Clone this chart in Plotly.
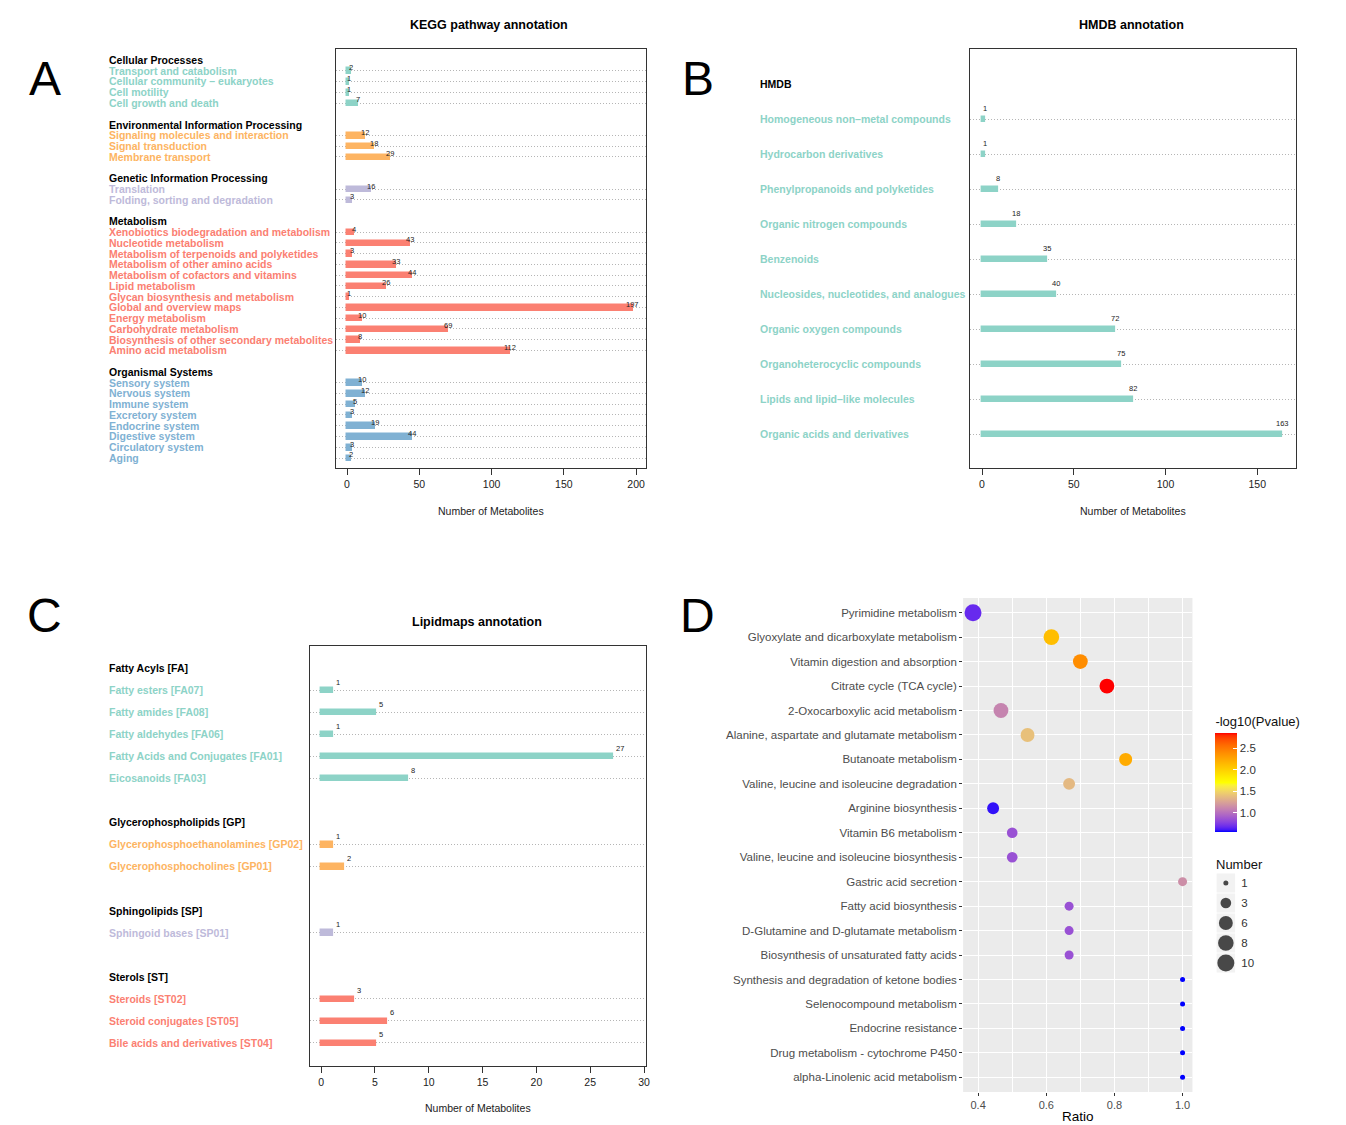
import numpy as np
import plotly.graph_objects as go

W, H = 1346, 1125
OX, OY = 8, 8            # page body margin of the html page
FW, FH = W - OX, H - OY  # figure size
FONT = "Liberation Sans, Arial, Helvetica, sans-serif"

def px(x):
    return (x - OX) / FW

def py(y):
    return 1 - (y - OY) / FH

TEAL, ORANGE, LAV, SALMON, BLUE = "#8DD3C7", "#FDB462", "#BEBADA", "#FB8072", "#80B1D3"

# ---------------- Panel A : KEGG ----------------
kegg_groups = ["Cellular Processes", "Environmental Information Processing",
               "Genetic Information Processing", "Metabolism", "Organismal Systems"]
kegg_cell_labels = ["Transport and catabolism", "Cellular community \u2013 eukaryotes",
                    "Cell motility", "Cell growth and death"]
kegg_cell_values = [2, 1, 1, 7]
kegg_env_labels = ["Signaling molecules and interaction", "Signal transduction", "Membrane transport"]
kegg_env_values = [12, 18, 29]
kegg_gen_labels = ["Translation", "Folding, sorting and degradation"]
kegg_gen_values = [16, 3]
kegg_met_labels = ["Xenobiotics biodegradation and metabolism", "Nucleotide metabolism",
                   "Metabolism of terpenoids and polyketides", "Metabolism of other amino acids",
                   "Metabolism of cofactors and vitamins", "Lipid metabolism",
                   "Glycan biosynthesis and metabolism", "Global and overview maps",
                   "Energy metabolism", "Carbohydrate metabolism",
                   "Biosynthesis of other secondary metabolites", "Amino acid metabolism"]
kegg_met_values = [4, 43, 3, 33, 44, 26, 1, 197, 10, 69, 8, 112]
kegg_org_labels = ["Sensory system", "Nervous system", "Immune system", "Excretory system",
                   "Endocrine system", "Digestive system", "Circulatory system", "Aging"]
kegg_org_values = [10, 12, 5, 3, 19, 44, 3, 2]
kegg_ticks = [0, 50, 100, 150, 200]

# ---------------- Panel B : HMDB ----------------
hmdb_header = "HMDB"
hmdb_labels = ["Homogeneous non\u2013metal compounds", "Hydrocarbon derivatives",
               "Phenylpropanoids and polyketides", "Organic nitrogen compounds", "Benzenoids",
               "Nucleosides, nucleotides, and analogues", "Organic oxygen compounds",
               "Organoheterocyclic compounds", "Lipids and lipid\u2013like molecules",
               "Organic acids and derivatives"]
hmdb_values = [1, 1, 8, 18, 35, 40, 72, 75, 82, 163]
hmdb_ticks = [0, 50, 100, 150]

# ---------------- Panel C : Lipidmaps ----------------
lipid_groups = ["Fatty Acyls [FA]", "Glycerophospholipids [GP]", "Sphingolipids [SP]", "Sterols [ST]"]
lipid_fa_labels = ["Fatty esters [FA07]", "Fatty amides [FA08]", "Fatty aldehydes [FA06]",
                   "Fatty Acids and Conjugates [FA01]", "Eicosanoids [FA03]"]
lipid_fa_values = [1, 5, 1, 27, 8]
lipid_gp_labels = ["Glycerophosphoethanolamines [GP02]", "Glycerophosphocholines [GP01]"]
lipid_gp_values = [1, 2]
lipid_sp_labels = ["Sphingoid bases [SP01]"]
lipid_sp_values = [1]
lipid_st_labels = ["Steroids [ST02]", "Steroid conjugates [ST05]", "Bile acids and derivatives [ST04]"]
lipid_st_values = [3, 6, 5]
lipid_ticks = [0, 5, 10, 15, 20, 25, 30]

# ---------------- Panel D : enrichment bubble ----------------
enr_pathways = ["Pyrimidine metabolism", "Glyoxylate and dicarboxylate metabolism",
                "Vitamin digestion and absorption", "Citrate cycle (TCA cycle)",
                "2-Oxocarboxylic acid metabolism", "Alanine, aspartate and glutamate metabolism",
                "Butanoate metabolism", "Valine, leucine and isoleucine degradation",
                "Arginine biosynthesis", "Vitamin B6 metabolism",
                "Valine, leucine and isoleucine biosynthesis", "Gastric acid secretion",
                "Fatty acid biosynthesis", "D-Glutamine and D-glutamate metabolism",
                "Biosynthesis of unsaturated fatty acids", "Synthesis and degradation of ketone bodies",
                "Selenocompound metabolism", "Endocrine resistance",
                "Drug metabolism - cytochrome P450", "alpha-Linolenic acid metabolism"]
enr_ratio = [0.385, 0.615, 0.70, 0.778, 0.467, 0.545, 0.833, 0.667, 0.444, 0.50,
             0.50, 1.0, 0.667, 0.667, 0.667, 1.0, 1.0, 1.0, 1.0, 1.0]
enr_number = [10, 8, 7, 7, 7, 6, 5, 4, 4, 3, 3, 2, 2, 2, 2, 1, 1, 1, 1, 1]
enr_logp = [0.68, 2.11, 2.39, 2.85, 1.10, 1.40, 2.22, 1.36, 0.60, 0.85,
            0.85, 1.15, 0.85, 0.85, 0.85, 0.56, 0.56, 0.56, 0.56, 0.56]
size_legend_numbers = [1, 3, 6, 8, 10]
cbar_ticks = [1.0, 1.5, 2.0, 2.5]
ratio_ticks = [0.4, 0.6, 0.8, 1.0]


# ---------- helpers ----------
def hex2rgb(h):
    h = h.lstrip("#")
    return [int(h[i:i + 2], 16) / 255 for i in (0, 2, 4)]

def rgb2lab(rgb):
    def lin(c):
        return c / 12.92 if c <= 0.04045 else ((c + 0.055) / 1.055) ** 2.4
    r, g, b = [lin(c) for c in rgb]
    X = (0.4124 * r + 0.3576 * g + 0.1805 * b) / 0.95047
    Y = (0.2126 * r + 0.7152 * g + 0.0722 * b)
    Z = (0.0193 * r + 0.1192 * g + 0.9505 * b) / 1.08883
    def f(t):
        return t ** (1 / 3) if t > 0.008856 else 7.787 * t + 16 / 116
    fx, fy, fz = f(X), f(Y), f(Z)
    return [116 * fy - 16, 500 * (fx - fy), 200 * (fy - fz)]

def lab2hex(lab):
    L, a, b = lab
    fy = (L + 16) / 116
    fx = fy + a / 500
    fz = fy - b / 200
    def finv(t):
        return t ** 3 if t ** 3 > 0.008856 else (t - 16 / 116) / 7.787
    X, Y, Z = finv(fx) * 0.95047, finv(fy), finv(fz) * 1.08883
    r = 3.2406 * X - 1.5372 * Y - 0.4986 * Z
    g = -0.9689 * X + 1.8758 * Y + 0.0415 * Z
    bb = 0.0557 * X - 0.2040 * Y + 1.0570 * Z
    def gam(c):
        c = c * 12.92 if c <= 0.0031308 else 1.055 * c ** (1 / 2.4) - 0.055
        return int(round(min(max(c, 0), 1) * 255))
    return "#%02x%02x%02x" % (gam(r), gam(g), gam(bb))

def lab_scale(colors, n=41):
    labs = [rgb2lab(hex2rgb(c)) for c in colors]
    out = []
    for i in range(n):
        t = i / (n - 1)
        seg = min(int(t * (len(colors) - 1)), len(colors) - 2)
        lt = t * (len(colors) - 1) - seg
        lab = [labs[seg][k] * (1 - lt) + labs[seg + 1][k] * lt for k in range(3)]
        out.append([t, lab2hex(lab)])
    return out


def build_rows(groups):
    """groups: list of (header, labels, values, color)"""
    headers, items = [], []
    r = 0
    for hdr, labels, values, color in groups:
        headers.append((r, hdr))
        for i, (lab, v) in enumerate(zip(labels, values)):
            items.append((r + 1 + i, lab, v, color))
        r += len(labels) + 2
    return headers, items


fig = go.Figure()
annotations = []
shapes = []


def bar_panel(idx, groups, xrange_, yrange_, domx, domy, bar_w, label_x, label_size,
              ticks, lab_mode, title, title_xy, axtitle_y):
    xa = "xaxis" if idx == 1 else "xaxis%d" % idx
    ya = "yaxis" if idx == 1 else "yaxis%d" % idx
    xr = "x" if idx == 1 else "x%d" % idx
    yr = "y" if idx == 1 else "y%d" % idx
    headers, items = build_rows(groups)
    for hdr, labels, values, color in groups:
        rows = [it[0] for it in items if it[3] == color and it[1] in labels]
        fig.add_trace(go.Bar(x=values, y=rows, orientation="h", width=bar_w,
                             marker=dict(color=color, line=dict(color=color, width=2.5)),
                             xaxis=xr, yaxis=yr, showlegend=False, hoverinfo="x+y"))
    for r, hdr in headers:
        annotations.append(dict(x=px(label_x), y=r, xref="paper", yref=yr, text="<b>%s</b>" % hdr,
                                showarrow=False, xanchor="left", yanchor="middle",
                                font=dict(size=label_size, color="#000000", family=FONT)))
    for r, lab, v, color in items:
        annotations.append(dict(x=px(label_x), y=r, xref="paper", yref=yr, text="<b>%s</b>" % lab,
                                showarrow=False, xanchor="left", yanchor="middle",
                                font=dict(size=label_size, color=color, family=FONT)))
        if lab_mode == "A":
            annotations.append(dict(x=v, y=r, xref=xr, yref=yr, text=str(v), showarrow=False,
                                    xanchor="center", yanchor="middle", yshift=3, xshift=1,
                                    font=dict(size=7.5, color="#222222", family=FONT)))
        elif lab_mode == "B":
            annotations.append(dict(x=v, y=r, xref=xr, yref=yr, text=str(v), showarrow=False,
                                    xanchor="center", yanchor="middle", yshift=11, xshift=1,
                                    font=dict(size=7.5, color="#222222", family=FONT)))
        else:
            annotations.append(dict(x=v, y=r, xref=xr, yref=yr, text=str(v), showarrow=False,
                                    xanchor="left", yanchor="middle", yshift=8, xshift=2,
                                    font=dict(size=7.5, color="#222222", family=FONT)))
    item_rows = [it[0] for it in items]
    fig.update_layout(**{
        xa: dict(domain=domx, range=xrange_, tickvals=ticks, ticks="outside", ticklen=6,
                 tickcolor="#333333", showline=True, mirror=True, linecolor="#333333",
                 linewidth=1.2, showgrid=False, zeroline=False, anchor=yr,
                 tickfont=dict(size=10.5, color="#222222", family=FONT)),
        ya: dict(domain=domy, range=yrange_, tickvals=item_rows, showticklabels=False,
                 ticks="", showline=True, mirror=True, linecolor="#333333", linewidth=1.2,
                 showgrid=True, gridcolor="#B5B5B5", griddash="1px,2px", gridwidth=1,
                 zeroline=False, anchor=xr),
    })
    annotations.append(dict(x=px(title_xy[0]), y=py(title_xy[1]), xref="paper", yref="paper",
                            text="<b>%s</b>" % title, showarrow=False, xanchor="center",
                            yanchor="middle", font=dict(size=12.5, color="#000000", family=FONT)))
    annotations.append(dict(x=(domx[0] + domx[1]) / 2, y=py(axtitle_y), xref="paper", yref="paper",
                            text="Number of Metabolites", showarrow=False, xanchor="center",
                            yanchor="middle", font=dict(size=10.5, color="#222222", family=FONT)))
    return item_rows


# Panel A
kegg_all = [(kegg_groups[0], kegg_cell_labels, kegg_cell_values, TEAL),
            (kegg_groups[1], kegg_env_labels, kegg_env_values, ORANGE),
            (kegg_groups[2], kegg_gen_labels, kegg_gen_values, LAV),
            (kegg_groups[3], kegg_met_labels, kegg_met_values, SALMON),
            (kegg_groups[4], kegg_org_labels, kegg_org_values, BLUE)]
bar_panel(1, kegg_all, [-7.6, 206.9], [37.93, -1.02], [px(337), px(648)], [py(468), py(49)],
          0.42, 107, 10.5, kegg_ticks, "A", "KEGG pathway annotation", (490, 25), 511)

# Panel B
bar_panel(2, [(hmdb_header, hmdb_labels, hmdb_values, TEAL)], [-6.5, 171.2], [10.97, -1.0],
          [px(973), px(1300)], [py(468), py(49)], 0.13, 760, 10.5, hmdb_ticks, "B",
          "HMDB annotation", (1135, 25), 511)

# Panel C
lipid_all = [(lipid_groups[0], lipid_fa_labels, lipid_fa_values, TEAL),
             (lipid_groups[1], lipid_gp_labels, lipid_gp_values, ORANGE),
             (lipid_groups[2], lipid_sp_labels, lipid_sp_values, LAV),
             (lipid_groups[3], lipid_st_labels, lipid_st_values, SALMON)]
bar_panel(3, lipid_all, [-1.02, 30.19], [18.05, -1.0], [px(311), px(648)], [py(1066), py(646)],
          0.2, 107, 10.5, lipid_ticks, "C", "Lipidmaps annotation", (478, 622), 1108)

# Panel D
cscale = lab_scale(["#0000FF", "#FFFF00", "#FF0000"])
def diam(n):
    n = np.asarray(n, dtype=float)
    return 5 + 12 * np.sqrt((n - 1) / 9)

fig.add_trace(go.Scatter(
    x=enr_ratio, y=enr_pathways, mode="markers", xaxis="x4", yaxis="y4", showlegend=False,
    marker=dict(size=diam(enr_number), sizemode="diameter", color=enr_logp, colorscale=cscale,
                cmin=min(enr_logp), cmax=max(enr_logp), line=dict(width=0), opacity=1,
                showscale=True,
                colorbar=dict(x=px(1219), xanchor="left", y=py(713), yanchor="top", len=119,
                              lenmode="pixels", thickness=22, thicknessmode="pixels",
                              outlinewidth=0, tickvals=cbar_ticks,
                              ticktext=["%.1f" % t for t in cbar_ticks], ticks="inside",
                              ticklen=4, tickcolor="white",
                              tickfont=dict(size=11.5, color="#333333", family=FONT),
                              title=dict(text="-log10(Pvalue)", side="top",
                                         font=dict(size=13, color="#111111", family=FONT)),
                              xpad=0, ypad=0))))

shapes.append(dict(type="rect", xref="x4 domain", yref="y4 domain", x0=0, x1=1, y0=0, y1=1,
                   fillcolor="#EBEBEB", line=dict(width=0), layer="below"))

fig.update_layout(
    xaxis4=dict(domain=[px(966), px(1196)], range=[0.356, 1.029], tickvals=ratio_ticks,
                ticktext=["%.1f" % t for t in ratio_ticks], ticks="outside", ticklen=3,
                tickcolor="#333333", showgrid=True, gridcolor="white", gridwidth=1.1,
                zeroline=False, showline=False, anchor="y4",
                minor=dict(dtick=0.1, tick0=0.4, showgrid=True, gridcolor="white", gridwidth=0.5),
                tickfont=dict(size=11, color="#4D4D4D", family=FONT)),
    yaxis4=dict(domain=[py(1092), py(598)], type="category", categoryorder="array",
                categoryarray=enr_pathways, range=[len(enr_pathways) - 1 + 0.6, -0.6],
                ticks="outside", ticklen=3, tickcolor="#333333", showgrid=True,
                gridcolor="white", gridwidth=1.1, zeroline=False, showline=False, anchor="x4",
                tickfont=dict(size=11.5, color="#4D4D4D", family=FONT)),
)
annotations.append(dict(x=px(1081), y=py(1116), xref="paper", yref="paper", text="Ratio",
                        showarrow=False, xanchor="center", yanchor="middle",
                        font=dict(size=13.5, color="#000000", family=FONT)))

# size legend
leg_labels = [str(n) for n in size_legend_numbers]
fig.add_trace(go.Scatter(x=[0.5] * len(leg_labels), y=leg_labels, mode="markers", xaxis="x5",
                         yaxis="y5", showlegend=False, hoverinfo="skip",
                         marker=dict(symbol="square", size=19, color="#F2F2F2", line=dict(width=0))))
fig.add_trace(go.Scatter(x=[0.5] * len(leg_labels), y=leg_labels, mode="markers", xaxis="x5",
                         yaxis="y5", showlegend=False, hoverinfo="skip",
                         marker=dict(size=diam(size_legend_numbers), sizemode="diameter",
                                     color="black", line=dict(width=0))))
fig.update_layout(
    xaxis5=dict(domain=[px(1220), px(1239)], range=[0, 1], visible=False, anchor="y5"),
    yaxis5=dict(domain=[py(973), py(873)], type="category", categoryorder="array",
                categoryarray=leg_labels, range=[4.5, -0.5], side="right", anchor="x5",
                showgrid=False, zeroline=False, showline=False, ticks="",
                ticklabelstandoff=5,
                tickfont=dict(size=11.5, color="#333333", family=FONT)),
)
annotations.append(dict(x=px(1218), y=py(864), xref="paper", yref="paper", text="Number",
                        showarrow=False, xanchor="left", yanchor="middle",
                        font=dict(size=13, color="#111111", family=FONT)))

# panel letters
for letter, (lx, ly) in zip(["A", "B", "C", "D"], [(45, 78), (700, 78), (45, 615), (700, 615)]):
    annotations.append(dict(x=px(lx), y=py(ly), xref="paper", yref="paper", text=letter,
                            showarrow=False, xanchor="center", yanchor="middle",
                            font=dict(size=48, color="#000000", family=FONT)))

fig.update_layout(width=FW, height=FH, margin=dict(l=0, r=0, t=0, b=0),
                  paper_bgcolor="white", plot_bgcolor="white", annotations=annotations,
                  shapes=shapes, bargap=0, font=dict(family=FONT))

fig.write_html("out.html")
